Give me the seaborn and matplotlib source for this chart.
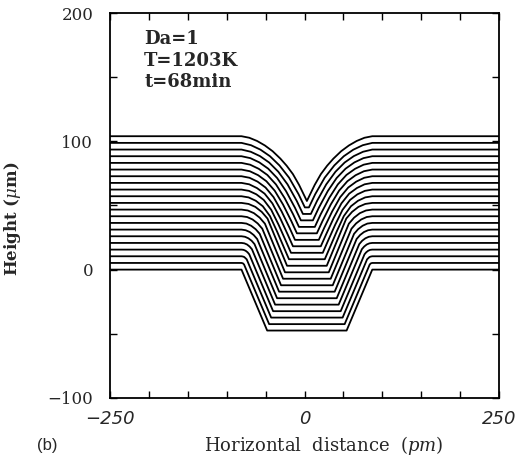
import matplotlib
matplotlib.use("Agg")
import matplotlib.pyplot as plt
import matplotlib.ticker as mticker
import pandas as pd
import seaborn as sns

# ---- data ----
x_range = [-250, 250]
y_range = [-100, 200]
trench_center = 3.0                     # x of the trench axis
flat_levels = [0.0, 5.2, 10.4, 15.6, 20.8, 26.0, 31.2, 36.4, 41.6, 46.8, 52.0,
               57.2, 62.4, 67.6, 72.8, 78.0, 83.2, 88.4, 93.6, 98.8, 104.0]
bottom_levels = [-47.5, -42.5, -37.4, -32.4, -27.3, -22.3, -17.2, -12.2, -7.1, -2.1, 3.0,
                 8.1, 13.1, 18.2, 23.2, 28.3, 33.3, 38.4, 43.4, 48.5, 53.5]
bottom_half_widths = [51.0, 48.5, 45.9, 43.4, 40.8, 38.3, 35.7, 33.2, 30.6, 28.1, 25.5,
                      23.0, 20.4, 17.9, 15.3, 12.8, 10.2, 7.7, 5.1, 2.6, 0.0]
# left shoulder / flank points (offset from trench axis, height) of each profile
shoulder_points = [
    [(-84.0, 0.0)],
    [(-84.0, 5.2), (-82.2, 4.9), (-80.7, 4.0)],
    [(-84.0, 10.4), (-82.2, 10.2), (-80.4, 9.8), (-77.3, 8.0)],
    [(-84.0, 15.6), (-81.3, 15.4), (-78.7, 14.7), (-76.2, 13.5), (-74.0, 11.9)],
    [(-84.0, 20.8), (-80.4, 20.5), (-76.9, 19.6), (-73.6, 18.0), (-70.6, 15.9)],
    [(-84.0, 26.0), (-79.5, 25.6), (-75.1, 24.4), (-71.0, 22.5), (-67.3, 19.9)],
    [(-84.0, 31.2), (-78.6, 30.7), (-73.3, 29.3), (-68.4, 27.0), (-63.9, 23.9)],
    [(-84.0, 36.4), (-77.7, 35.9), (-71.6, 34.2), (-65.8, 31.5), (-60.6, 27.9)],
    [(-84.0, 41.6), (-76.8, 41.0), (-69.8, 39.1), (-63.2, 36.0), (-57.3, 31.9)],
    [(-84.0, 46.8), (-75.9, 46.1), (-68.0, 44.0), (-60.6, 40.5), (-53.9, 35.8)],
    [(-84.0, 52.0), (-75.0, 51.2), (-66.2, 48.9), (-58.0, 45.0), (-50.6, 39.8)],
    [(-84.0, 57.2), (-74.9, 56.3), (-65.7, 53.7), (-56.6, 49.4), (-47.4, 41.7),
     (-38.3, 29.7), (-29.1, 16.7)],
    [(-84.0, 62.4), (-74.5, 61.4), (-64.9, 58.7), (-55.4, 54.3), (-45.8, 46.6),
     (-36.3, 34.9), (-26.8, 22.0)],
    [(-84.0, 67.6), (-74.1, 66.5), (-64.2, 63.6), (-54.3, 59.2), (-44.3, 51.6),
     (-34.4, 40.2), (-24.5, 27.2)],
    [(-84.0, 72.8), (-73.7, 71.6), (-63.4, 68.6), (-53.1, 64.0), (-42.8, 56.5),
     (-32.5, 45.4), (-22.2, 32.5)],
    [(-84.0, 78.0), (-73.3, 76.7), (-62.6, 73.6), (-52.0, 68.9), (-41.3, 61.5),
     (-30.6, 50.7), (-19.9, 37.7)],
    [(-84.0, 83.2), (-72.9, 81.8), (-61.9, 78.6), (-50.8, 73.8), (-39.7, 66.4),
     (-28.7, 55.9), (-17.6, 43.0)],
    [(-84.0, 88.4), (-72.6, 86.9), (-61.1, 83.6), (-49.7, 78.7), (-38.2, 71.4),
     (-26.8, 61.2), (-15.3, 48.2)],
    [(-84.0, 93.6), (-72.2, 91.9), (-60.3, 88.5), (-48.5, 83.5), (-36.7, 76.3),
     (-24.8, 66.4), (-13.0, 53.5)],
    [(-84.0, 98.8), (-71.8, 97.0), (-59.6, 93.5), (-47.4, 88.4), (-35.2, 81.2),
     (-22.9, 71.7), (-10.7, 58.8)],
    [(-84.0, 104.0), (-74.0, 102.8), (-64.0, 100.3), (-54.0, 96.8), (-44.0, 92.3),
     (-34.0, 86.5), (-26.0, 81.0), (-18.0, 74.5), (-10.0, 66.0)],
]
y_tick_values = [-100, 0, 100, 200]
x_tick_values = [-250, 0, 250]
x_tick_labels = ["\u2212250", "0", "250"]
y_tick_labels = ["\u2212100", "0", "100", "200"]
notes = ["Da=1", "T=1203K", "t=68min"]

# ---- build long-form table (left half mirrored about trench axis) ----
rows = []
for k, (L, B, hw, pts) in enumerate(zip(flat_levels, bottom_levels,
                                         bottom_half_widths, shoulder_points)):
    left = [(x_range[0] - trench_center, L)] + list(pts) + [(-hw, B)]
    right = [(-r, v) for r, v in reversed(left)]
    for i, (r, v) in enumerate(left + right):
        rows.append({"profile": k, "order": i, "x": trench_center + r, "y": v})
df = pd.DataFrame(rows)

sns.set_theme(style="ticks")
plt.rcParams["font.family"] = ["DejaVu Serif"]
plt.rcParams["mathtext.fontset"] = "dejavuserif"

fig = plt.figure(figsize=(5.26, 4.67), dpi=100)
ax = fig.add_axes([0.209, 0.148, 0.740, 0.824])

sns.lineplot(data=df, x="x", y="y", hue="profile", units="profile",
             estimator=None, sort=False, palette=["black"] * len(flat_levels),
             linewidth=1.3, legend=False, ax=ax)

ax.set_xlim(*x_range)
ax.set_ylim(*y_range)
ax.set_xticks(x_tick_values)
ax.set_xticklabels(x_tick_labels, fontstyle="italic", fontsize=13,
                   family=["DejaVu Sans"])
ax.set_yticks(y_tick_values)
ax.set_yticklabels(y_tick_labels, fontsize=12)
ax.xaxis.set_minor_locator(mticker.MultipleLocator(50))
ax.yaxis.set_minor_locator(mticker.MultipleLocator(50))
ax.tick_params(which="both", direction="in", top=True, right=True,
               length=5, width=1.0, color="black")
ax.tick_params(axis="x", pad=9)
ax.tick_params(axis="y", pad=12)
for s in ax.spines.values():
    s.set_linewidth(1.3)
    s.set_color("black")

ax.set_xlabel("Horizontal  distance  $(pm)$", fontsize=13, va="center")
ax.xaxis.set_label_coords(0.548, -0.125)
ax.set_ylabel("Height ($\\mu$m)", fontsize=12, fontweight="bold")
ax.yaxis.set_label_coords(-0.224, 0.465)

for i, t in enumerate(notes):
    ax.text(0.088, 0.932 - i * 0.056, t, transform=ax.transAxes,
            fontsize=13, fontweight="bold", va="center", ha="left")

fig.text(0.07, 0.045, "(b)", fontsize=12, family=["Liberation Sans", "DejaVu Sans"],
         va="center", ha="left")

fig.savefig("out.png", dpi=100)
